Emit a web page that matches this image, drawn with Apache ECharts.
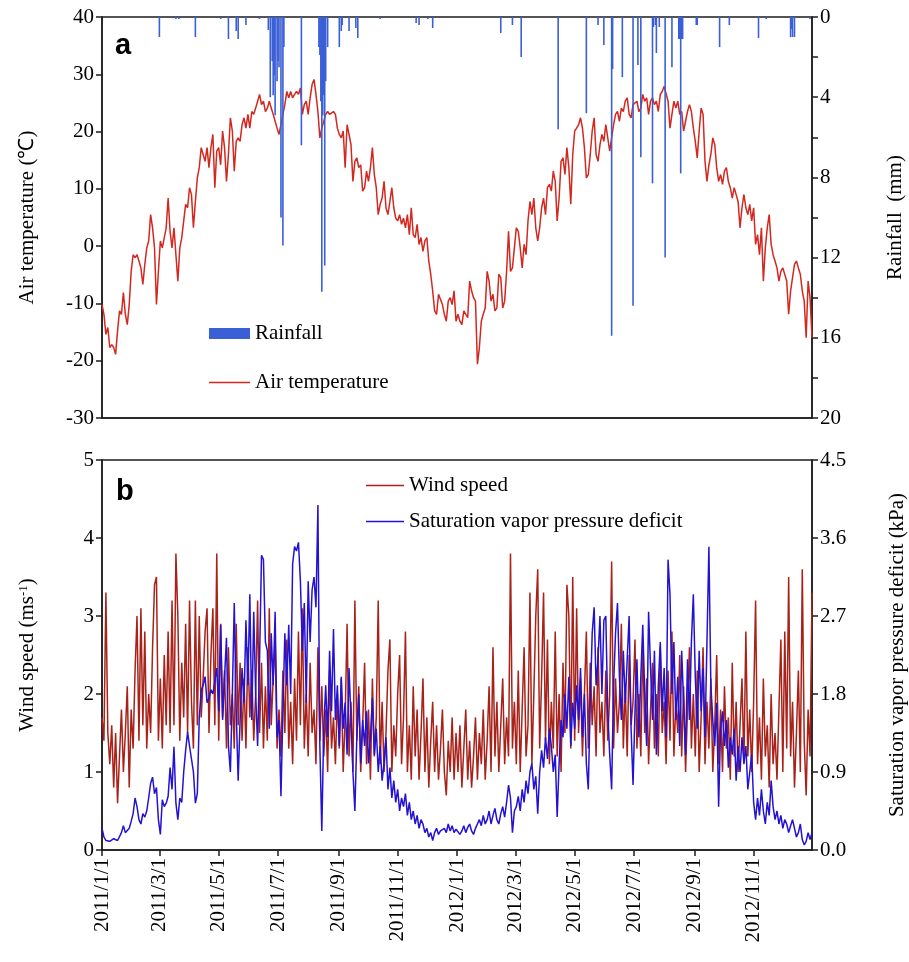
<!DOCTYPE html>
<html>
<head>
<meta charset="utf-8">
<script src="https://cdn.jsdelivr.net/npm/echarts@6/dist/echarts.min.js"></script>
<style>
html, body { margin: 0; padding: 0; background: #fff; }
#chart { width: 909px; height: 962px; }
</style>
</head>
<body>
<div id="chart"></div>
<script>
// daily series are sampled every STEP days from 2011/1/1
var STEP = 2;

var airTemp = [
  -10.2,-11.9,-15.4,-14.2,-17.7,-17.2, -17.7,-18.9,-14.8,-11.3,-11.9,-8.1, -11.9,-13.7,-10.2,-4.4,-1.5,-2,
  -1.5,-2.6,-3.8,-6.7,-3.2,-0.3, 0.9,5.5,3.2,-0.3,-10.2,-4.4, 0.9,-0.3,-0.3,3.2,8.4,2.6,
  -0.3,3.2,-1.5,-6.1,-0.3,1.5, 4.4,7.3,6.7,10.2,9,3.2, 7.8,11.9,13.7,17.2,16,14.8,
  17.2,13.7,17.2,19.5,10.2,16.6, 17.2,14.2,20.1,17.2,11.3,16, 22.4,20.1,13.1,18.3,18.9,18.3,
  21.2,22.4,20.6,23,20.6,23.5, 23,24.1,25.3,26.5,24.7,25.3, 23.5,24.1,25.3,24.1,23,21.8,
  20.6,19.5,21.2,23,24.7,27, 25.9,27,25.9,26.5,27,26.5, 27.6,23,24.7,25.3,23,25.9,
  28.2,29.1,26.5,23.5,18.9,20.6, 21.8,23,23.5,23,23,23.5, 23,20.6,19.5,18.9,20.1,13.7,
  21.2,19.5,17.7,11.3,14.8,15.4, 13.7,14.2,9.6,10.2,13.1,11.3, 13.7,17.2,12.5,10.2,5.5,7.3,
  8.4,11.3,6.7,5.5,7.8,10.2, 6.7,4.9,4.4,5.5,3.8,4.9, 3.2,5.5,2,6.7,2,1.5,
  3.8,0.3,1.5,-0.9,0.9,1.5, -2.6,-4.9,-7.8,-11.3,-11.9,-8.4, -8.4,-10.2,-11.9,-13.1,-9.6,-9,
  -10.2,-7.8,-13.1,-11.9,
  -13.1,-13.7,-11.3,-11.3,-12.5,-6.1, -7.8,-9,-9.6,-20.6,-17.7,-13.1, -11.9,-10.8,-4.4,-6.1,-9.6,-8.4,
  -11.3,-10.8,-4.9,-5.5,-10.8,-9.6, -4.4,2.6,-4.4,-3.8,-0.3,3.2, 2.6,-0.3,-3.8,0.3,-1.5,4.4,
  7.8,5.5,8.4,3.2,0.9,3.2, 6.7,8.4,5.5,10.2,10.8,9.6, 13.1,11.3,4.4,8.4,14.8,15.4,
  12.5,17.2,13.7,7.3,16,20.1, 20.6,21.2,22.4,20.6,17.2,11.9, 12.5,16,20.1,22.4,16,14.8,
  17.7,19.5,18.3,21.2,21.2,16.6, 18.9,21.2,23,23.5,21.8,24.1, 23.5,25.3,25.9,23,22.4,24.7,
  24.7,25.3,23.5,24.1,26.5,25.3, 25.9,23,25.3,25.9,24.7,25.3, 23.5,26.5,27,27.9,28.2,25.3,
  20.6,23,25.3,24.1,25.3,23, 23.5,20.1,21.8,23.5,24.7,23.5, 20.6,18.3,15.4,20.1,24.1,23,
  14.8,11.3,14.2,16,18.9,17.7, 13.7,11.3,12.5,10.8,13.1,13.7, 11.3,10.2,8.4,10.2,9,7.8,
  3.2,6.7,9,6.7,5.5,7.3, 4.4,6.7,0.3,2,-1.5,3.2, -6.1,-0.3,3.2,5.5,0.3,-1.5,
  -2.6,-3.8,-6.1,-4.4,-3.8,-3.8, -6.1,-11.9,-7.8,-5.5,-3.2,-2.6, -3.8,-4.9,-7.8,-9.6,-16,-6.1,
  -9,-16
];

var windSpeed = [
  1.7,1.4,3.3,1.5,1.1,1.6,0.8,1.5,0.6,1.2,1.8,1.0,1.5,2.1,0.8,1.8,1.3,2.3,3.0,1.4,3.1,1.6,2.8,1.3,2.0,1.5,2.6,3.4,3.5,1.4,
  2.2,1.3,2.5,1.6,2.8,1.5,3.2,1.6,3.8,3.0,1.4,2.4,1.7,2.9,1.5,3.2,1.9,1.3,3.2,1.6,3.0,1.7,2.2,2.8,3.1,1.5,2.5,3.1,1.6,3.8,
  1.4,2.9,1.7,2.3,1.3,2.6,1.6,2.0,1.3,2.9,1.6,2.4,1.4,2.2,1.3,2.6,1.7,2.3,1.4,2.0,3.2,1.5,2.4,1.3,2.1,1.4,3.1,1.6,2.2,2.7,1.3,
  1.8,1.2,2.3,1.5,2.7,1.3,1.9,1.1,2.2,1.4,2.8,1.6,3.1,1.3,2.0,1.2,2.4,1.5,1.8,1.1,2.6,1.4,2.1,1.2,1.8,1.0,2.3,1.3,1.7,1.1,2.0,
  1.3,2.2,1.0,1.7,2.9,1.2,1.9,1.0,3.2,1.4,2.1,1.0,1.6,2.4,1.1,1.8,0.9,2.2,1.2,1.7,3.2,1.1,1.9,1.0,1.5,2.3,2.7,1.0,1.6,1.2,
  2.0,2.5,1.1,1.7,2.8,1.0,1.6,0.9,2.1,1.2,1.8,0.9,1.5,2.2,1.0,1.7,0.8,1.4,1.9,1.0,1.6,0.9,1.3,1.8,1.0,0.7,1.4,1.0,1.7,0.9,1.5,
  1.0,1.6,0.8,1.3,1.8,0.9,1.4,0.8,1.2,1.7,0.9,1.5,1.1,1.8,0.9,1.4,2.1,1.0,2.6,1.2,1.9,1.0,1.6,2.2,1.1,1.7,1.2,3.8,1.3,1.9,
  1.1,2.3,1.0,1.8,2.6,1.2,1.6,3.3,1.1,2.0,3.0,3.6,1.3,2.2,3.3,1.4,2.7,1.1,1.9,1.3,2.8,1.2,2.0,1.0,2.4,1.5,3.4,3.0,1.3,3.5,1.4,
  3.1,1.5,2.2,1.2,2.0,2.8,1.3,2.4,1.6,2.1,1.2,2.6,1.5,1.9,1.2,2.3,1.4,2.0,3.7,1.3,2.2,1.5,1.9,2.9,1.3,2.1,1.2,2.5,1.6,1.9,
  2.7,1.3,2.0,1.2,2.7,1.5,2.2,1.1,1.8,2.4,1.3,2.0,1.2,2.6,1.5,1.9,1.1,2.3,1.4,2.8,1.2,1.9,1.5,2.5,1.2,2.1,1.0,1.8,2.6,1.3,2.0,
  1.2,2.3,1.0,1.7,2.6,1.1,1.9,1.3,2.2,1.0,1.6,2.5,1.1,1.8,1.0,2.1,1.3,1.7,0.9,2.4,1.2,1.9,1.0,1.6,2.2,1.1,2.8,1.2,1.8,1.0,
  1.9,3.2,1.1,1.7,0.9,2.2,1.2,1.6,0.8,2.0,1.1,1.5,0.9,1.8,2.7,1.0,2.8,1.3,3.5,1.2,1.9,0.8,1.5,2.3,1.0,3.6,1.4,0.7,1.8,1.2,3.3
];

var vpd = [
  0.25,0.15,0.11,0.1,0.1,0.12,0.13,0.12,0.11,0.11,0.2,0.28,0.2,0.2,0.25,0.33,0.42,0.6,0.5,0.35,0.3,0.42,0.38,0.45,0.6,0.77,0.84,0.65,0.72,0.35,
  0.18,0.58,0.5,0.54,0.62,0.95,0.7,1.19,0.54,0.35,0.6,0.55,0.9,1.15,1.36,1.2,1.05,0.9,0.54,0.65,1.53,1.84,1.9,2.0,1.7,1.75,1.85,1.8,1.95,2.1,
  1.6,2.6,1.5,2.0,2.45,1.2,0.9,1.8,2.85,1.6,0.8,1.5,2.1,1.7,2.65,1.9,2.95,1.5,2.75,1.8,1.2,2.2,3.4,3.35,2.4,2.3,1.4,2.5,1.9,2.75,1.3,
  1.5,0.62,1.6,2.5,1.9,2.6,1.8,3.3,3.5,3.45,3.55,3.1,2.3,2.85,1.7,3.1,2.4,3.0,3.15,2.8,3.98,1.2,0.22,1.4,1.9,1.3,2.3,1.6,2.55,1.5,1.9,
  1.2,2.0,1.4,1.7,1.1,2.1,1.5,0.9,0.45,1.3,1.8,1.0,1.5,1.2,1.6,1.0,1.3,1.75,1.1,1.4,0.9,1.2,0.8,1.0,1.3,0.7,0.95,0.6,0.8,0.55,
  0.7,0.45,0.6,0.5,0.65,0.4,0.55,0.35,0.45,0.3,0.4,0.25,0.35,0.3,0.2,0.25,0.15,0.2,0.11,0.2,0.25,0.18,0.22,0.2,0.25,0.2,0.3,0.22,0.28,0.2,0.24,
  0.25,0.18,0.22,0.28,0.2,0.26,0.3,0.22,0.18,0.25,0.3,0.35,0.28,0.4,0.3,0.35,0.45,0.3,0.4,0.48,0.35,0.3,0.42,0.5,0.38,0.55,0.75,0.6,0.2,0.45,
  0.5,0.62,0.45,0.7,0.55,0.8,0.65,0.9,1.0,0.7,0.85,0.42,0.9,1.15,0.95,1.3,1.05,1.4,1.2,0.9,1.1,0.38,1.0,1.5,1.3,1.8,1.4,2.0,1.2,1.7,1.4,
  1.9,1.5,2.1,1.3,1.8,1.0,0.7,1.7,2.5,2.8,1.9,2.2,2.7,1.8,2.65,2.7,1.6,1.1,0.7,1.9,2.5,2.85,2.0,1.5,2.3,1.7,2.2,2.7,1.4,0.75,
  1.6,2.2,1.3,2.0,2.6,1.8,1.2,2.75,2.1,1.5,2.3,1.1,1.9,2.4,1.6,2.1,1.3,3.35,2.95,1.8,2.4,1.5,2.0,1.2,2.3,1.7,1.1,2.2,1.5,2.4,2.95,
  2.0,1.4,2.3,1.6,2.1,1.3,2.4,3.5,1.9,1.5,1.2,1.7,0.5,1.4,1.6,1.2,1.5,0.95,1.3,1.1,1.4,0.8,1.2,0.9,1.3,1.0,1.2,0.7,0.9,1.1,
  0.55,0.35,0.6,0.4,0.7,0.45,0.3,0.55,0.4,0.8,0.5,0.35,0.45,0.3,0.4,0.25,0.35,0.3,0.2,0.28,0.35,0.25,0.15,0.2,0.3,0.12,0.06,0.1,0.2,0.12,0.2
];

// rain events: day index from 2011/1/1 and amount (mm)
var rainDay = [59,76,79,96,122,130,138,140,148,162,171,173,175,176,177,178,180,181,182,184,
  186,187,205,223,224,225,226,227,228,229,230,232,244,246,247,254,261,263,286,323,
  326,335,340,410,422,431,469,498,510,516,524,525,535,546,551,554,566,567,569,570,
  573,579,586,593,594,595,596,597,611,612,635,645,675,683,708,709,710,712,728];
var rainMm = [1.0,0.1,0.1,1.0,0.1,1.1,0.7,1.1,0.4,0.1,0.65,4.0,2.2,3.9,2.9,4.9,3.2,2.2,2.5,10.0,
  11.4,1.5,6.4,1.5,1.9,4.2,13.7,4.9,3.9,12.4,3.2,1.5,1.5,0.7,0.4,0.7,0.55,1.05,0.1,0.3,
  0.4,0.1,0.55,0.8,0.4,2.0,5.6,4.8,0.4,1.4,15.9,2.6,3.0,14.4,2.4,7.0,8.3,0.5,0.4,1.8,
  0.5,12.0,2.5,1.1,1.1,7.8,1.1,1.1,0.4,0.4,1.5,0.4,1.05,0.1,1.0,0.6,1.0,1.0,0.1];

var days = [];
for (var i = 0; i < 731; i++) {
  var dt = new Date(2011, 0, 1 + i);
  days.push(dt.getFullYear() + '/' + (dt.getMonth() + 1) + '/' + dt.getDate());
}

var serif = "'Liberation Serif', 'Times New Roman', serif";
var ink = '#1c1c1c';

function isMarkDay(idx, val) {
  return /^\d+\/(1|3|5|7|9|11)\/1$/.test(val);
}
function sampled(arr) {
  return arr.map(function (v, i) { return [i * STEP, v]; });
}

var axisLine = { show: true, onZero: false, lineStyle: { color: ink, width: 1.5 } };
var tick = { show: true, inside: false, length: 6, lineStyle: { color: ink, width: 1.5 } };
var label = { color: '#000', fontSize: 21, fontFamily: serif, margin: 8 };
var nameStyle = { color: '#000', fontSize: 21, fontFamily: serif };

const chart = echarts.init(document.getElementById('chart'));

chart.setOption({
  animation: false,
  backgroundColor: '#fff',
  grid: [
    { left: 102, right: 97, top: 17, height: 401, show: true, borderColor: ink, borderWidth: 1.5, outerBoundsMode: 'none' },
    { left: 102, right: 97, top: 460, height: 390, show: true, borderColor: ink, borderWidth: 1.5, outerBoundsMode: 'none' }
  ],
  legend: [
    {
      left: 209, top: 323, padding: 0, orient: 'vertical', itemWidth: 41, itemHeight: 11, itemGap: 28,
      textStyle: { color: '#000', fontSize: 21, fontFamily: serif },
      data: [
        { name: 'Rainfall', icon: 'rect' },
        { name: 'Air temperature', icon: 'path://M0,0H40V1.6H0Z' }
      ]
    },
    {
      left: 366, top: 475, padding: 0, orient: 'vertical', itemWidth: 38, itemHeight: 11, itemGap: 15,
      textStyle: { color: '#000', fontSize: 21, fontFamily: serif },
      data: [
        { name: 'Wind speed', icon: 'path://M0,0H40V1.6H0Z' },
        { name: 'Saturation vapor pressure deficit', icon: 'path://M0,0H40V1.6H0Z' }
      ]
    }
  ],
  graphic: [
    { type: 'text', left: 115, top: 31, style: { text: 'a', fill: '#000', font: "bold 29px 'Liberation Sans', Arial, sans-serif" } },
    { type: 'text', left: 116, top: 477, style: { text: 'b', fill: '#000', font: "bold 29px 'Liberation Sans', Arial, sans-serif" } }
  ],
  xAxis: [
    {
      type: 'category', gridIndex: 0, data: days, boundaryGap: false,
      axisLine: axisLine, axisTick: { show: false }, axisLabel: { show: false }, splitLine: { show: false }
    },
    {
      type: 'category', gridIndex: 1, data: days, boundaryGap: false,
      axisLine: axisLine,
      axisTick: Object.assign({}, tick, { interval: isMarkDay }),
      axisLabel: Object.assign({}, label, { interval: isMarkDay, rotate: 90 }),
      splitLine: { show: false }
    }
  ],
  yAxis: [
    {
      type: 'value', gridIndex: 0, min: -30, max: 40, interval: 10, position: 'left',
      name: 'Air temperature (℃)', nameLocation: 'middle', nameGap: 64, nameTextStyle: nameStyle,
      axisLine: axisLine, axisTick: tick, axisLabel: label, splitLine: { show: false }
    },
    {
      type: 'value', gridIndex: 0, min: 0, max: 20, interval: 2, position: 'right', inverse: true,
      name: 'Rainfall  (mm)', nameLocation: 'middle', nameGap: 73, nameRotate: 90, nameTextStyle: nameStyle,
      axisLine: axisLine, axisTick: tick,
      axisLabel: Object.assign({}, label, { formatter: function (v) { return v % 4 === 0 ? v : ''; } }),
      splitLine: { show: false }
    },
    {
      type: 'value', gridIndex: 1, min: 0, max: 5, interval: 1, position: 'left',
      name: 'Wind speed (ms{sup|-1})', nameLocation: 'middle', nameGap: 64,
      nameTextStyle: Object.assign({}, nameStyle, {
        rich: { sup: { fontSize: 13, fontFamily: serif, color: '#000', verticalAlign: 'top', lineHeight: 14 } }
      }),
      axisLine: axisLine, axisTick: tick, axisLabel: label, splitLine: { show: false }
    },
    {
      type: 'value', gridIndex: 1, min: 0, max: 4.5, interval: 0.9, position: 'right',
      name: 'Saturation vapor pressure deficit (kPa)', nameLocation: 'middle', nameGap: 75, nameRotate: 90,
      nameTextStyle: nameStyle,
      axisLine: axisLine, axisTick: tick,
      axisLabel: Object.assign({}, label, { formatter: function (v) { return v.toFixed(1); } }),
      splitLine: { show: false }
    }
  ],
  series: [
    {
      name: 'Air temperature', type: 'line', xAxisIndex: 0, yAxisIndex: 0,
      data: sampled(airTemp), symbol: 'none', z: 2,
      itemStyle: { color: '#d3281f' },
      lineStyle: { color: '#d3281f', width: 1.5 }
    },
    {
      name: 'Rainfall', type: 'bar', xAxisIndex: 0, yAxisIndex: 1,
      data: rainDay.map(function (d, i) { return [d, rainMm[i]]; }),
      barWidth: 1.6, z: 3,
      itemStyle: { color: '#3b5fd6' }
    },
    {
      name: 'Wind speed', type: 'line', xAxisIndex: 1, yAxisIndex: 2,
      data: sampled(windSpeed), symbol: 'none', z: 2,
      itemStyle: { color: '#a8221a' },
      lineStyle: { color: '#a8221a', width: 1.5 }
    },
    {
      name: 'Saturation vapor pressure deficit', type: 'line', xAxisIndex: 1, yAxisIndex: 3,
      data: sampled(vpd), symbol: 'none', z: 3,
      itemStyle: { color: '#2412d2' },
      lineStyle: { color: '#2412d2', width: 1.5 }
    }
  ]
});
</script>
</body>
</html>
